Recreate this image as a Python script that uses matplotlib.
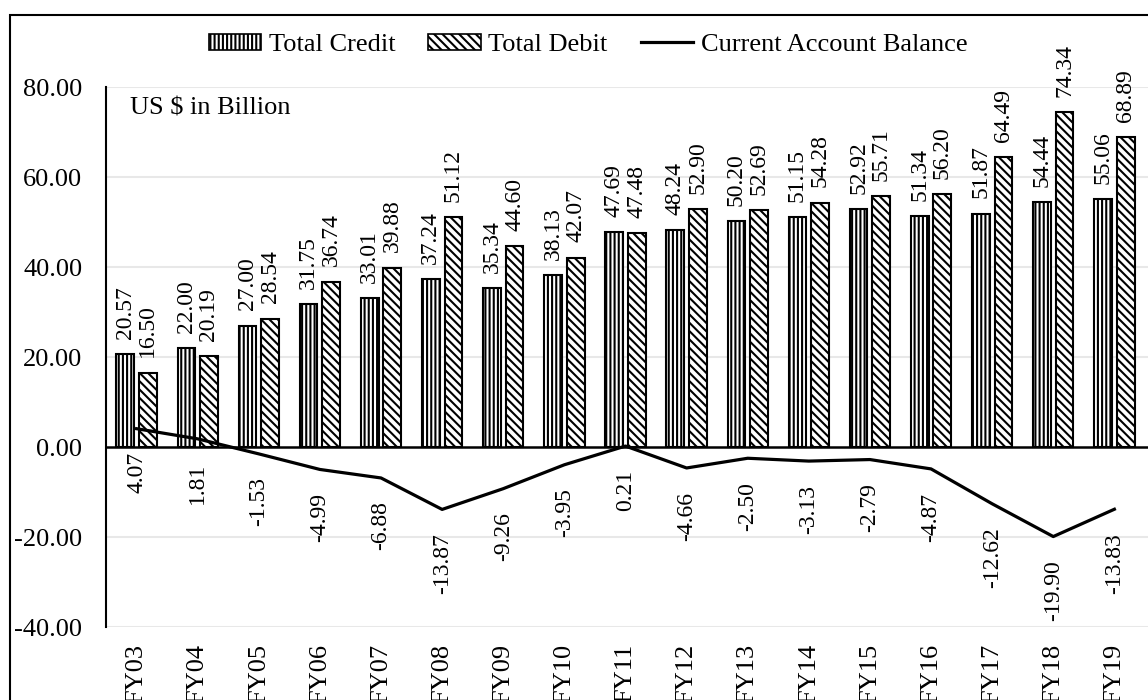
import matplotlib
matplotlib.use("Agg")
import matplotlib.pyplot as plt
from matplotlib.patches import Rectangle, Patch
from matplotlib.lines import Line2D
import numpy as np

plt.rcParams['font.family'] = ['Liberation Serif', 'DejaVu Serif']
plt.rcParams['hatch.linewidth'] = 1.5

# data
years = ['FY03', 'FY04', 'FY05', 'FY06', 'FY07', 'FY08', 'FY09', 'FY10', 'FY11',
         'FY12', 'FY13', 'FY14', 'FY15', 'FY16', 'FY17', 'FY18', 'FY19']
credit = [20.57, 22.00, 27.00, 31.75, 33.01, 37.24, 35.34, 38.13, 47.69,
          48.24, 50.20, 51.15, 52.92, 51.34, 51.87, 54.44, 55.06]
debit = [16.50, 20.19, 28.54, 36.74, 39.88, 51.12, 44.60, 42.07, 47.48,
         52.90, 52.69, 54.28, 55.71, 56.20, 64.49, 74.34, 68.89]
balance = [4.07, 1.81, -1.53, -4.99, -6.88, -13.87, -9.26, -3.95, 0.21,
           -4.66, -2.50, -3.13, -2.79, -4.87, -12.62, -19.90, -13.83]

W, H = 1148, 700
fig = plt.figure(figsize=(W / 100, H / 100), dpi=100)
ax = fig.add_axes([106 / W, 73 / H, 1042 / W, 540 / H])

x = np.arange(len(years))
bw = 0.29
off = 0.185

ax.bar(x - off, credit, bw, color='white', edgecolor='black', linewidth=1.5,
       hatch='||||', zorder=3)
ax.bar(x + off, debit, bw, color='white', edgecolor='black', linewidth=1.5,
       hatch='\\\\\\\\', zorder=3)
ax.plot(x, balance, color='black', lw=2.3, zorder=4)

ax.set_xlim(-0.5, 16.55)
ax.set_ylim(-40, 80)
ax.set_yticks(np.arange(-40, 81, 20))
ax.yaxis.set_major_formatter(matplotlib.ticker.FormatStrFormatter('%.2f'))
ax.set_xticks(x)
ax.set_xticklabels(years, rotation=90)
ax.tick_params(axis='y', length=0, pad=17, labelsize=19)
ax.tick_params(axis='x', length=0, pad=12, labelsize=19)
for lab in ax.get_xticklabels():
    lab.set_verticalalignment('top')

for v in [-40, -20, 20, 40, 60, 80]:
    ax.axhline(v, color='#e8e8e8', lw=1.5, zorder=0)
ax.axhline(0, color='black', lw=1.8, zorder=5)

for s in ['top', 'right', 'bottom']:
    ax.spines[s].set_visible(False)
ax.spines['left'].set_linewidth(1.5)
ax.spines['left'].set_color('black')

# value labels
for i in range(len(years)):
    ax.annotate('%.2f' % credit[i], (x[i] - off, credit[i]), xytext=(0, 11),
                textcoords='offset points', rotation=90, ha='center', va='bottom',
                fontsize=17)
    ax.annotate('%.2f' % debit[i], (x[i] + off, debit[i]), xytext=(0, 11),
                textcoords='offset points', rotation=90, ha='center', va='bottom',
                fontsize=17)
    ax.annotate('%.2f' % balance[i], (x[i], balance[i]), xytext=(0, -17),
                textcoords='offset points', rotation=90, ha='center', va='top',
                fontsize=17)

ax.text(24 / 1042, 1 - 10 / 540, 'US $ in Billion', transform=ax.transAxes,
        fontsize=19, ha='left', va='top')

# legend
handles = [Patch(facecolor='white', edgecolor='black', hatch='||||', lw=1.2),
           Patch(facecolor='white', edgecolor='black', hatch='\\\\\\\\', lw=1.2),
           Line2D([], [], color='black', lw=2.3)]
fig.legend(handles, ['Total Credit', 'Total Debit', 'Current Account Balance'],
           loc='center', bbox_to_anchor=(588 / W, 1 - 45 / H), ncol=3,
           frameon=False, fontsize=19, handlelength=2.0, handleheight=0.55,
           handletextpad=0.28, columnspacing=1.25)

# outer border
fig.add_artist(Rectangle((10 / W, -0.1), 1.2, 1.1 - 15 / H, transform=fig.transFigure,
                         fill=False, edgecolor='black', lw=1.5, clip_on=False))

fig.savefig('out.png', dpi=100)
